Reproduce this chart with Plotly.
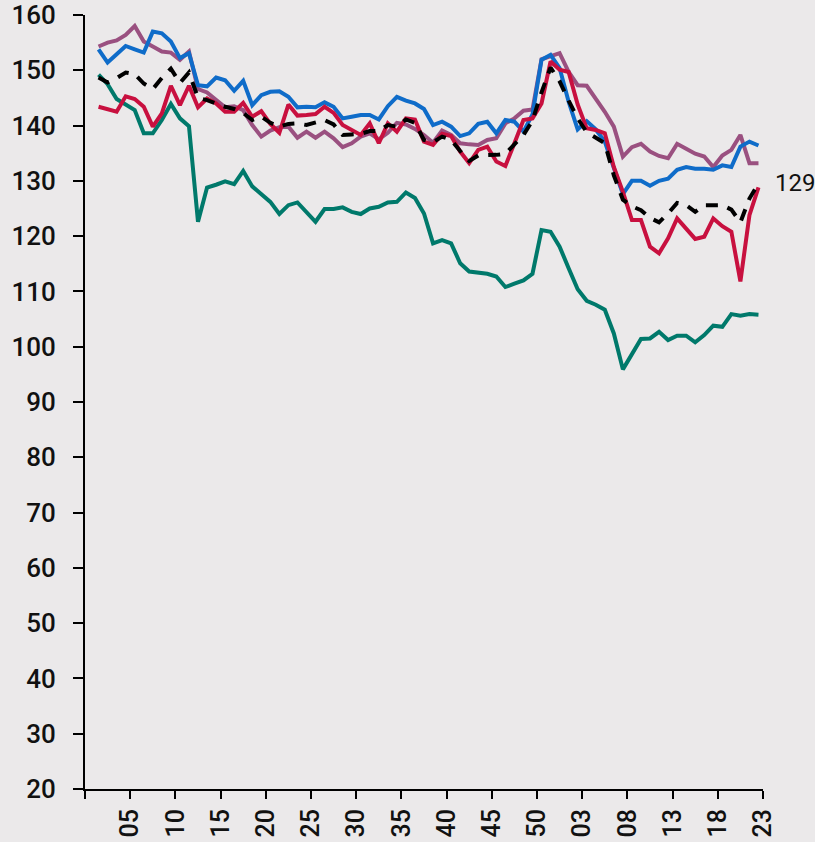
import plotly.graph_objects as go

# Years on the axis: 1902-1950, then 1999-2023 (the axis skips the gap)
years = list(range(1902, 1951)) + list(range(1999, 2024))

tick_vals = list(range(0, 80, 5))
tick_labels = ["", "05", "10", "15", "20", "25", "30", "35", "40", "45", "50",
               "03", "08", "13", "18", "23"]

blue = [153.8, 151.4, 152.9, 154.4, 153.8, 153.2, 157.0, 156.7, 155.2, 152.2,
        153.1, 147.3, 147.1, 148.7, 148.2, 146.3, 148.1, 143.7, 145.5, 146.1,
        146.2, 145.2, 143.3, 143.4, 143.3, 144.2, 143.4, 141.3, 141.6, 141.9,
        141.9, 141.1, 143.5, 145.2, 144.5, 144.0, 143.0, 140.1, 140.7, 139.8,
        138.1, 138.6, 140.3, 140.7, 138.6, 141.0, 140.7, 138.9, 142.0, 151.9,
        152.8, 150.4, 144.3, 139.3, 140.8, 139.3, 137.1, 132.5, 127.6, 130.0,
        130.0, 129.1, 130.0, 130.4, 132.0, 132.5, 132.2, 132.2, 132.0, 132.8,
        132.5, 136.2, 137.1, 136.4]

mauve = [154.3, 155.0, 155.4, 156.4, 158.0, 155.2, 154.3, 153.4, 153.2, 151.9,
         153.4, 146.6, 146.0, 144.6, 143.3, 143.5, 142.8, 140.1, 138.0, 139.1,
         139.7, 139.8, 137.8, 138.9, 137.8, 138.9, 137.7, 136.1, 136.8, 138.0,
         138.6, 137.5, 138.7, 140.5, 140.2, 139.4, 138.3, 136.9, 139.1, 138.3,
         136.8, 136.6, 136.5, 137.4, 137.7, 140.4, 141.3, 142.7, 142.9, 152.0,
         152.5, 153.1, 149.7, 147.3, 147.2, 144.9, 142.5, 139.8, 134.4, 136.1,
         136.7, 135.3, 134.5, 134.1, 136.7, 135.8, 134.9, 134.4, 132.5, 134.6,
         135.6, 138.3, 133.2, 133.2]

red = [143.4, 143.0, 142.5, 145.3, 144.8, 143.4, 139.8, 142.2, 147.2, 143.7,
       147.2, 143.3, 144.9, 144.0, 142.5, 142.5, 144.1, 141.6, 142.6, 140.3,
       138.7, 143.8, 141.8, 141.9, 142.1, 143.4, 142.3, 140.1, 139.2, 138.3,
       140.4, 136.8, 140.4, 138.9, 141.3, 141.1, 137.1, 136.5, 138.5, 138.1,
       135.3, 133.2, 135.6, 136.2, 133.5, 132.7, 136.8, 141.0, 141.3, 144.0,
       151.6, 150.1, 149.7, 143.8, 139.5, 139.2, 138.6, 132.5, 128.0, 122.9,
       122.9, 118.1, 116.9, 119.6, 123.2, 121.4, 119.5, 119.9, 123.2, 121.8,
       120.8, 111.8, 123.8, 128.8]

green = [149.2, 147.5, 144.8, 143.7, 142.8, 138.6, 138.6, 141.0, 143.9, 141.3,
         139.9, 122.6, 128.8, 129.3, 129.9, 129.4, 131.8, 129.0, 127.5, 126.2,
         124.0, 125.6, 126.1, 124.3, 122.6, 124.9, 124.9, 125.2, 124.4, 124.0,
         125.0, 125.3, 126.1, 126.2, 127.9, 126.9, 124.1, 118.7, 119.3, 118.7,
         115.1, 113.6, 113.4, 113.2, 112.7, 110.8, 111.4, 112.0, 113.2, 121.1,
         120.8, 118.1, 114.2, 110.4, 108.3, 107.6, 106.7, 102.4, 95.9, 98.5,
         101.4, 101.5, 102.7, 101.2, 102.0, 102.0, 100.8, 102.1, 103.8, 103.6,
         105.9, 105.6, 105.9, 105.8]

average = [148.7, 147.8, 148.6, 149.6, 149.3, 147.6, 146.6, 148.6, 150.3, 147.7,
           149.6, 145.0, 144.6, 144.0, 143.4, 143.0, 142.3, 141.0, 141.6, 140.5,
           139.8, 140.3, 140.4, 140.1, 140.5, 141.0, 140.2, 138.3, 138.4, 138.5,
           139.0, 139.0, 140.1, 139.8, 141.1, 140.5, 137.4, 137.0, 138.0, 137.4,
           135.4, 133.6, 134.6, 134.6, 134.7, 134.9, 136.5, 138.3, 140.9, 146.0,
           150.5, 148.0, 144.5, 141.3, 138.8, 137.8, 136.8, 131.0, 126.6, 125.4,
           124.7, 123.3, 122.5, 124.1, 126.0, 125.6, 124.4, 125.6, 125.6, 125.6,
           124.8, 122.5, 126.8, 129.5]

# Each year sits in the middle of its slot; slot 0 (1901) holds no data
xpos = [i + 1.5 for i in range(len(years))]

BG = "#ebe9ea"
LW = 4

fig = go.Figure()
series = [
    (green, "#00796b", "solid"),
    (mauve, "#9a5080", "solid"),
    (blue, "#0f6cc9", "solid"),
    (red, "#c8103f", "solid"),
    (average, "#000000", "12px,10px"),
]
for vals, col, dash in series:
    fig.add_trace(go.Scatter(
        x=xpos, y=vals, mode="lines",
        line=dict(color=col, width=LW, dash=dash),
        customdata=years, hoverinfo="skip", showlegend=False,
    ))

fig.add_annotation(
    x=xpos[-1], y=red[-1], text=f"{round(red[-1])}",
    showarrow=False, xanchor="left", yanchor="middle",
    xshift=15, yshift=4,
    font=dict(family="Roboto", size=24, color="#111111"),
)

fig.update_layout(
    width=815, height=842,
    margin=dict(l=85, r=52, t=15, b=53),
    paper_bgcolor=BG, plot_bgcolor=BG,
    showlegend=False,
    xaxis=dict(
        range=[0, 75], tickmode="array", tickvals=tick_vals, ticktext=tick_labels,
        tickangle=-90, showgrid=False, zeroline=False, automargin=False,
        showline=True, linecolor="#000000", linewidth=2,
        ticks="outside", ticklen=8, tickwidth=2, tickcolor="#000000",
        tickfont=dict(family="Roboto", size=25, color="#111111", weight=500),
    ),
    yaxis=dict(
        range=[20, 160], tickmode="array", tickvals=list(range(20, 161, 10)),
        showgrid=False, zeroline=False, automargin=False,
        showline=True, linecolor="#000000", linewidth=2,
        ticks="outside", ticklen=10, tickwidth=2, tickcolor="#000000",
        ticklabelstandoff=12,
        tickfont=dict(family="Roboto", size=26, color="#111111", weight=500),
    ),
)

fig.write_html("out.html")
